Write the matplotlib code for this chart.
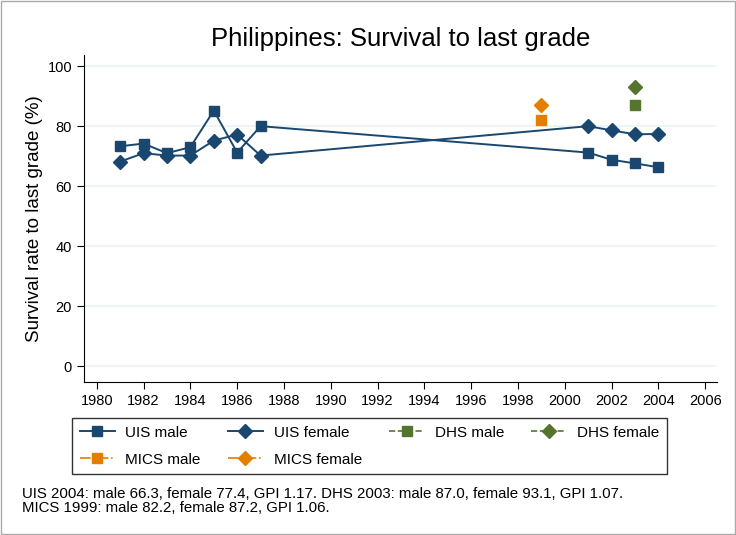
import matplotlib.pyplot as plt
from matplotlib.patches import Rectangle

# data
uis_years = [1981, 1982, 1983, 1984, 1985, 1986, 1987, 2001, 2002, 2003, 2004]
uis_male = [73.3, 74.2, 71.0, 73.0, 85.2, 71.2, 80.0, 71.2, 68.8, 67.6, 66.3]
uis_female = [68.2, 71.0, 70.2, 70.2, 75.2, 77.2, 70.2, 80.0, 78.6, 77.3, 77.4]
dhs_years = [2003]
dhs_male = [87.0]
dhs_female = [93.1]
mics_years = [1999]
mics_male = [82.2]
mics_female = [87.2]

x_ticks = list(range(1980, 2007, 2))
y_ticks = [0, 20, 40, 60, 80, 100]

navy = "#1a476f"
green = "#55752f"
orange = "#e37e00"

plt.rcParams["font.family"] = ["Liberation Sans", "DejaVu Sans"]

fig = plt.figure(figsize=(7.36, 5.35), dpi=100)
fig.patches.append(Rectangle((0.002, 0.002), 0.996, 0.996, transform=fig.transFigure,
                             fill=False, edgecolor="#aaaaaa", lw=1))
ax = fig.add_axes([0.114, 0.286, 0.860, 0.611])

h1, = ax.plot(uis_years, uis_male, color=navy, marker="s", ms=7, lw=1.4, label="UIS male")
h2, = ax.plot(uis_years, uis_female, color=navy, marker="D", ms=7, lw=1.4, label="UIS female")
h3, = ax.plot(dhs_years, dhs_male, color=green, marker="s", ms=7, lw=1.2, ls="--", label="DHS male")
h4, = ax.plot(dhs_years, dhs_female, color=green, marker="D", ms=7, lw=1.2, ls="--", label="DHS female")
h5, = ax.plot(mics_years, mics_male, color=orange, marker="s", ms=7, lw=1.2, ls="-.", label="MICS male")
h6, = ax.plot(mics_years, mics_female, color=orange, marker="D", ms=7, lw=1.2, ls="-.", label="MICS female")

ax.set_xlim(1979.45, 2006.5)
ax.set_ylim(-5.3, 103.7)
ax.set_xticks(x_ticks)
ax.set_yticks(y_ticks)
ax.tick_params(labelsize=10.5, length=5, color="black")
ax.grid(axis="y", color="#eaf2f3", lw=1.2)
ax.set_axisbelow(True)
for s in ["top", "right"]:
    ax.spines[s].set_visible(False)
ax.set_ylabel("Survival rate to last grade (%)", fontsize=13.5, labelpad=3)

fig.text(0.545, 0.928, "Philippines: Survival to last grade", ha="center", va="center", fontsize=18.5)

handles = [h1, h5, h2, h6, h3, h4]
leg = fig.legend(handles=handles, ncol=4, loc="upper left",
                 bbox_to_anchor=(72 / 736, 1 - 418 / 535, (667 - 72) / 736, 0),
                 mode="expand", fontsize=11, frameon=True, fancybox=False,
                 handlelength=2.3, handletextpad=0.7, columnspacing=1.5,
                 borderpad=0.5, labelspacing=0.85, borderaxespad=0)
leg.get_frame().set_edgecolor("black")
leg.get_frame().set_linewidth(1)

fig.text(0.030, 0.037, "UIS 2004: male 66.3, female 77.4, GPI 1.17. DHS 2003: male 87.0, female 93.1, GPI 1.07.\n"
         "MICS 1999: male 82.2, female 87.2, GPI 1.06.", fontsize=10.8, va="bottom", ha="left", linespacing=1.0)

plt.savefig("out.png", dpi=100)
